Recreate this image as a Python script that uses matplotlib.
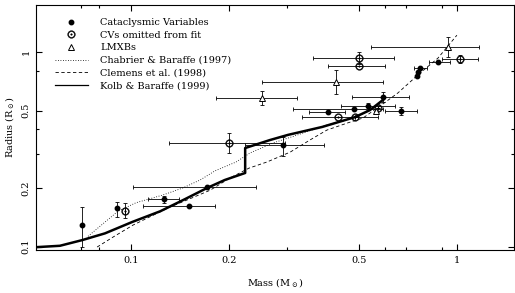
import numpy as np
import matplotlib
matplotlib.use("Agg")
import matplotlib.pyplot as plt
from matplotlib.lines import Line2D
from matplotlib.ticker import FixedLocator, NullFormatter

plt.rcParams['font.family'] = ['DejaVu Serif']
plt.rcParams['mathtext.fontset'] = 'dejavuserif'

# Cataclysmic variables (filled dots)
cv_mass = [0.0708, 0.0906, 0.126, 0.151, 0.171, 0.292, 0.402, 0.483, 0.533, 0.673, 0.593, 0.875, 0.770, 0.759, 0.754]
cv_radius = [0.129, 0.158, 0.176, 0.162, 0.202, 0.333, 0.492, 0.509, 0.527, 0.498, 0.587, 0.888, 0.827, 0.789, 0.753]
cv_mass_lo = [0.0708, 0.0906, 0.113, 0.109, 0.1015, 0.224, 0.351, 0.314, 0.440, 0.602, 0.477, 0.82, 0.737, 0.759, 0.754]
cv_mass_hi = [0.0708, 0.0906, 0.140, 0.181, 0.242, 0.391, 0.454, 0.593, 0.645, 0.752, 0.713, 0.95, 0.81, 0.759, 0.754]
cv_rad_lo = [0.100, 0.142, 0.168, 0.162, 0.202, 0.292, 0.492, 0.509, 0.504, 0.475, 0.553, 0.888, 0.827, 0.789, 0.753]
cv_rad_hi = [0.160, 0.170, 0.182, 0.162, 0.202, 0.366, 0.492, 0.509, 0.547, 0.522, 0.623, 0.888, 0.827, 0.789, 0.753]

# CVs omitted from fit (circled dots)
om_mass = [0.0958, 0.200, 0.50, 0.50, 1.02, 0.573, 0.431, 0.487]
om_radius = [0.152, 0.341, 0.93, 0.847, 0.92, 0.516, 0.463, 0.463]
om_mass_lo = [0.0958, 0.131, 0.361, 0.402, 0.897, 0.573, 0.334, 0.487]
om_mass_hi = [0.0958, 0.297, 0.641, 0.601, 1.16, 0.573, 0.573, 0.487]
om_rad_lo = [0.140, 0.303, 0.868, 0.847, 0.878, 0.516, 0.463, 0.463]
om_rad_hi = [0.168, 0.383, 1.0, 0.847, 0.965, 0.516, 0.463, 0.463]

# LMXBs (open triangles)
lm_mass = [0.938, 0.425, 0.252, 0.565]
lm_radius = [1.06, 0.701, 0.580, 0.498]
lm_mass_lo = [0.545, 0.252, 0.182, 0.565]
lm_mass_hi = [1.168, 0.593, 0.323, 0.565]
lm_rad_lo = [0.94, 0.608, 0.534, 0.498]
lm_rad_hi = [1.19, 0.808, 0.63, 0.498]

# Chabrier & Baraffe (1997)
cb_mass = [0.0738, 0.082, 0.0912, 0.1035, 0.125, 0.144, 0.163, 0.181, 0.210, 0.232, 0.273, 0.323, 0.399, 0.460, 0.522, 0.593]
cb_radius = [0.113, 0.131, 0.152, 0.168, 0.184, 0.200, 0.220, 0.245, 0.272, 0.303, 0.341, 0.374, 0.422, 0.447, 0.486, 0.547]

# Clemens et al. (1998)
cl_mass = [0.0787, 0.0881, 0.1014, 0.114, 0.132, 0.149, 0.175, 0.201, 0.230, 0.261, 0.308, 0.354, 0.399, 0.460, 0.515, 0.593, 0.659, 0.759, 0.875, 1.0]
cl_radius = [0.0995, 0.112, 0.129, 0.142, 0.160, 0.174, 0.195, 0.225, 0.253, 0.272, 0.306, 0.353, 0.397, 0.431, 0.458, 0.541, 0.616, 0.762, 0.931, 1.22]

# Kolb & Baraffe (1999)
kb_mass = [0.0519, 0.0605, 0.0708, 0.0832, 0.101, 0.123, 0.147, 0.171, 0.194, 0.224, 0.224, 0.267, 0.303, 0.386, 0.487, 0.541, 0.593]
kb_radius = [0.0995, 0.101, 0.108, 0.117, 0.134, 0.152, 0.176, 0.200, 0.220, 0.239, 0.321, 0.353, 0.375, 0.412, 0.463, 0.503, 0.567]


def errs(v, lo, hi):
    v, lo, hi = np.array(v), np.array(lo), np.array(hi)
    return [v - lo, hi - v]


fig = plt.figure(figsize=(5.15, 2.93), dpi=100)
ax = fig.add_axes([0.0699, 0.1468, 0.928, 0.8362])
ax.set_xscale('log')
ax.set_yscale('log')

ax.plot(cb_mass, cb_radius, color='black', lw=0.6, ls=(0, (1, 2)))
ax.plot(cl_mass, cl_radius, color='black', lw=0.6, ls=(0, (4, 3)))
ax.plot(kb_mass, kb_radius, color='black', lw=1.8)

eb = dict(fmt='none', ecolor='black', elinewidth=0.6, capsize=1.5, capthick=0.6)
ax.errorbar(cv_mass, cv_radius, xerr=errs(cv_mass, cv_mass_lo, cv_mass_hi),
            yerr=errs(cv_radius, cv_rad_lo, cv_rad_hi), **eb)
ax.errorbar(om_mass, om_radius, xerr=errs(om_mass, om_mass_lo, om_mass_hi),
            yerr=errs(om_radius, om_rad_lo, om_rad_hi), **eb)
ax.errorbar(lm_mass, lm_radius, xerr=errs(lm_mass, lm_mass_lo, lm_mass_hi),
            yerr=errs(lm_radius, lm_rad_lo, lm_rad_hi), **eb)

ax.plot(cv_mass, cv_radius, 'o', color='black', ms=3.2, ls='none')
ax.plot(om_mass, om_radius, marker=r'$\odot$', color='black', ms=5.5, mew=0.3, ls='none')
ax.plot(lm_mass, lm_radius, '^', mfc='white', mec='black', mew=0.7, ms=4.5, ls='none')

ax.set_xlim(0.0511, 1.496)
ax.set_ylim(0.0961, 1.744)

ax.xaxis.set_major_locator(FixedLocator([0.1, 0.2, 0.5, 1]))
ax.xaxis.set_minor_locator(FixedLocator([0.07, 0.08, 0.3, 0.6, 0.7, 0.9]))
ax.yaxis.set_major_locator(FixedLocator([0.1, 0.2, 0.5, 1]))
ax.yaxis.set_minor_locator(FixedLocator([0.3, 0.4, 0.8]))
ax.xaxis.set_minor_formatter(NullFormatter())
ax.yaxis.set_minor_formatter(NullFormatter())
ax.set_xticklabels(['0.1', '0.2', '0.5', '1'])
ax.set_yticklabels(['0.1', '0.2', '0.5', '1'], rotation=90, va='center')
ax.tick_params(which='both', direction='in', top=True, right=True, labelsize=7, width=0.8)
ax.tick_params(which='major', length=4, pad=4)
ax.tick_params(which='minor', length=2.5)
for s in ax.spines.values():
    s.set_linewidth(0.8)

ax.set_xlabel(r'Mass (M$_\odot$)', fontsize=7, labelpad=8)
ax.set_ylabel(r'Radius (R$_\odot$)', fontsize=7, labelpad=4)

handles = [
    Line2D([], [], marker='o', color='black', ms=3.2, ls='none'),
    Line2D([], [], marker=r'$\odot$', color='black', ms=5.5, mew=0.3, ls='none'),
    Line2D([], [], marker='^', mfc='white', mec='black', mew=0.7, ms=4.5, ls='none'),
    Line2D([], [], color='black', lw=0.6, ls=(0, (1, 2))),
    Line2D([], [], color='black', lw=0.6, ls=(0, (4, 3))),
    Line2D([], [], color='black', lw=0.9),
]
labels = ['Cataclysmic Variables', 'CVs omitted from fit', 'LMXBs',
          'Chabrier & Baraffe (1997)', 'Clemens et al. (1998)', 'Kolb & Baraffe (1999)']
ax.legend(handles, labels, loc='upper left', frameon=False, fontsize=7,
          handlelength=3.4, handletextpad=1.3, labelspacing=0.38,
          borderaxespad=0.3, bbox_to_anchor=(0.025, 0.975))

fig.savefig('out.png', dpi=100)
